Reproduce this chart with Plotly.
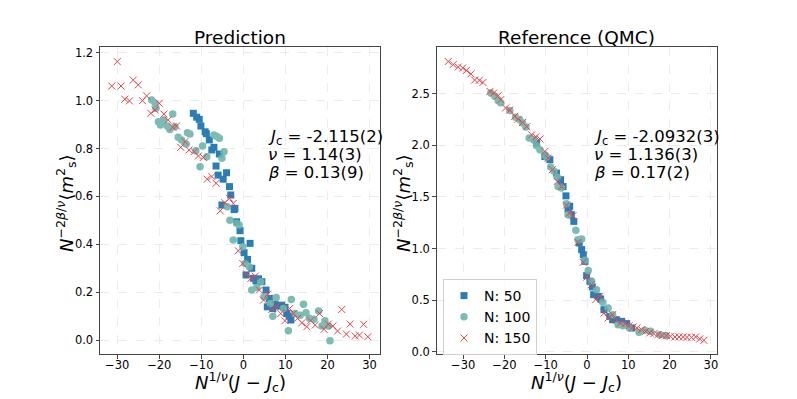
import plotly.graph_objects as go

# === PREDICTION (lijevi graf) ===
pred_x_50 = [-11.9, -11.1, -10.5, -10.1, -9.1, -8.8, -8.1, -7.0, -7.5, -5.7, -6.5, -6.0, -4.8, -4.0,
             -3.3, -3.0, -2.0, -5.1, -2.2, -1.6, -0.8, -0.6, 0.17, 1.6, 1.0, 2.0, 0.64, 2.4, 3.0,
             3.6, 4.4, 5.4, 6.2, 5.7, 7.0, 7.5, 8.3, 9.1, 9.9, 10.3, 10.9, 11.3]
pred_y_50 = [0.947, 0.931, 0.922, 0.894, 0.870, 0.862, 0.836, 0.805, 0.794, 0.777, 0.727, 0.689,
             0.672, 0.699, 0.641, 0.606, 0.550, 0.564, 0.545, 0.494, 0.457, 0.415, 0.365, 0.404,
             0.337, 0.300, 0.272, 0.258, 0.247, 0.256, 0.244, 0.209, 0.174, 0.139, 0.132, 0.150,
             0.142, 0.146, 0.137, 0.111, 0.100, 0.084]

pred_x_100 = [-21.8, -21.0, -20.8, -20.2, -19.7, -19.0, -18.1, -16.8, -17.5, -16.3, -15.5, -14.7,
              -13.6, -13.3, -12.7, -11.3, -10.3, -9.7, -8.7, -7.0, -6.3, -5.7, -5.1, -4.6, -3.8,
              -3.2, -2.4, -1.6, -1.0, -0.14, 0.4, 1.4, 2.0, 3.2, 4.1, 4.9, 6.4, 7.0, 7.8, 9.5,
              10.7, 11.4, 12.3, 13.5, 14.3, 14.9, 15.7, 16.8, 17.9, 18.7, 19.4, 20.2, 20.6]
pred_y_100 = [1.003, 0.989, 0.968, 0.912, 0.898, 0.919, 0.894, 0.944, 0.880, 0.891, 0.847, 0.836,
              0.819, 0.866, 0.861, 0.791, 0.724, 0.811, 0.766, 0.857, 0.850, 0.843, 0.759, 0.787,
              0.557, 0.501, 0.418, 0.488, 0.481, 0.390, 0.320, 0.306, 0.209, 0.220, 0.244, 0.181,
              0.153, 0.100, 0.178, 0.132, 0.039, 0.170, 0.111, 0.104, 0.150, 0.114, 0.091, 0.087,
              0.122, 0.059, 0.081, 0.059, -0.003]

pred_x_150 = [-30.0, -31.3, -29.1, -28.2, -27.1, -26.2, -25.0, -24.0, -23.0, -22.0, -21.0, -20.0,
              -18.9, -17.9, -16.8, -15.9, -13.9, -14.9, -12.9, -11.7, -10.7, -9.5, -8.6, -7.5,
              -6.5, -4.4, -3.3, -2.4, -5.5, -1.2, -0.14, 0.81, 2.8, 1.8, 3.8, 4.8, 5.8, 6.8, 8.0,
              8.9, 9.9, 11.0, 11.9, 12.9, 13.9, 15.1, 16.0, 17.1, 18.1, 19.2, 20.2, 21.3, 22.4,
              23.4, 24.5, 25.4, 26.6, 27.6, 28.6, 29.6]
pred_y_150 = [1.163, 1.061, 1.061, 1.006, 0.999, 1.086, 1.066, 1.000, 1.020, 0.947, 0.961, 0.989,
              0.944, 0.919, 0.889, 0.894, 0.829, 0.805, 0.794, 0.787, 0.769, 0.763, 0.672, 0.683,
              0.655, 0.574, 0.592, 0.571, 0.540, 0.373, 0.320, 0.276, 0.267, 0.258, 0.209, 0.167,
              0.192, 0.128, 0.142, 0.111, 0.081, 0.132, 0.111, 0.091, 0.072, 0.056, 0.081, 0.063,
              0.111, 0.045, 0.067, 0.059, 0.038, 0.128, 0.025, 0.067, 0.017, 0.021, 0.066, 0.014]

# === REFERENCE QMC (desni graf) ===
ref_x_50 = [-12.2, -10.2, -9.0, -7.4, -6.4, -5.8, -5.1, -4.2, -4.6, -3.8, -3.2, -1.9, -1.3, -0.9,
            -0.5, -0.1, 0.7, 1.3, 1.6, 2.7, 3.3, 4.1, 5.5, 6.2, 7.1, 8.4, 9.6, 10.8]
ref_y_50 = [2.02, 1.89, 1.86, 1.73, 1.666, 1.60, 1.51, 1.41, 1.383, 1.328, 1.263, 1.054, 0.99,
            0.941, 0.876, 0.738, 0.683, 0.629, 0.554, 0.538, 0.513, 0.409, 0.344, 0.312, 0.312,
            0.296, 0.274, 0.232]

ref_x_100 = [-23.3, -22.3, -21.5, -20.9, -18.7, -17.3, -16.3, -15.6, -14.8, -14.0, -12.9, -12.2,
             -11.4, -10.2, -9.8, -8.8, -8.0, -7.2, -7.0, -6.2, -5.0, -4.6, -2.7, -2.2, -1.3,
             -0.5, 0.3, 1.1, 2.3, 3.8, 5.1, 6.2, 7.5, 8.7, 10.3, 12.6, 14.0, 15.4, 17.6, 19.1]
ref_y_100 = [2.505, 2.47, 2.43, 2.41, 2.336, 2.27, 2.247, 2.215, 2.176, 2.07, 2.05, 1.995, 1.956,
             1.908, 1.886, 1.79, 1.747, 1.69, 1.60, 1.586, 1.434, 1.328, 1.176, 1.086, 1.093,
             0.886, 0.789, 0.683, 0.602, 0.480, 0.426, 0.36, 0.264, 0.254, 0.232, 0.19, 0.209,
             0.199, 0.167, 0.158]

ref_x_150 = [-33.6, -32.4, -31.2, -30.1, -29.2, -28.1, -27.2, -26.1, -25.2, -23.5, -22.6, -21.5,
             -20.9, -19.7, -18.7, -17.5, -16.7, -15.6, -14.6, -13.4, -12.4, -11.4, -10.2, -9.4,
             -8.4, -7.2, -6.2, -5.0, -4.3, -3.4, -2.2, -0.94, 0.0, 1.1, 2.1, 3.1, 4.1, 5.1, 6.2,
             7.1, 8.1, 9.2, 10.2, 11.2, 12.1, 13.2, 14.2, 15.2, 16.2, 17.2, 18.2, 19.2, 20.2,
             21.3, 22.3, 23.3, 24.2, 25.3, 26.3, 27.3, 28.3]
ref_y_150 = [2.81, 2.78, 2.756, 2.747, 2.723, 2.69, 2.63, 2.627, 2.607, 2.52, 2.505, 2.48, 2.44,
             2.36, 2.34, 2.28, 2.25, 2.22, 2.18, 2.10, 2.08, 2.06, 1.94, 1.876, 1.763, 1.65, 1.60,
             1.42, 1.344, 1.318, 1.06, 0.867, 0.725, 0.651, 0.506, 0.538, 0.377, 0.329, 0.361,
             0.306, 0.280, 0.274, 0.254, 0.242, 0.232, 0.216, 0.199, 0.184, 0.177, 0.167, 0.158,
             0.158, 0.151, 0.145, 0.145, 0.145, 0.141, 0.141, 0.145, 0.126, 0.112]

x_ticks = [-30, -20, -10, 0, 10, 20, 30]
x_ticktext = ["−30", "−20", "−10", "0", "10", "20", "30"]

pred_text = ["<i>J</i><sub>c</sub> = -2.115(2)", "<i>ν</i> = 1.14(3)", "<i>β</i> = 0.13(9)"]
ref_text = ["<i>J</i><sub>c</sub> = -2.0932(3)", "<i>ν</i> = 1.136(3)", "<i>β</i> = 0.17(2)"]

BLUE = "#1f77b4"
TEAL = "#6db6ac"
RED = "#e5454b"
FONT = "DejaVu Sans"
W, H = 797, 399
OFF = 8  # stranica ima 8 px margine oko grafa


def fx(px):
    return (px - OFF) / W


def fy(py):
    return (H - (py - OFF)) / H


fig = go.Figure()

for xa, ya, xs, ys, show in [("x", "y", (pred_x_50, pred_x_100, pred_x_150), (pred_y_50, pred_y_100, pred_y_150), False),
                             ("x2", "y2", (ref_x_50, ref_x_100, ref_x_150), (ref_y_50, ref_y_100, ref_y_150), True)]:
    fig.add_trace(go.Scatter(x=xs[0], y=ys[0], mode="markers", name="N: 50", xaxis=xa, yaxis=ya,
                             showlegend=show, opacity=0.95,
                             marker=dict(symbol="square", size=7, color=BLUE, line=dict(width=0))))
    fig.add_trace(go.Scatter(x=xs[1], y=ys[1], mode="markers", name="N: 100", xaxis=xa, yaxis=ya,
                             showlegend=show, opacity=0.9,
                             marker=dict(symbol="circle", size=7.5, color=TEAL, line=dict(width=0))))
    fig.add_trace(go.Scatter(x=xs[2], y=ys[2], mode="markers", name="N: 150", xaxis=xa, yaxis=ya,
                             showlegend=show,
                             marker=dict(symbol="x-thin", size=7, color=RED, line=dict(width=1, color=RED))))

axis_common = dict(showline=True, mirror=True, linecolor="#444444", linewidth=1,
                   ticks="outside", ticklen=3.5, tickcolor="#444444", automargin=False,
                   showgrid=True, gridcolor="#ececec", griddash="dash", gridwidth=1,
                   zeroline=False, tickfont=dict(size=11.5, family=FONT, color="black"))

xtitle = "<i>N</i><sup>1/<i>ν</i></sup>(<i>J</i> − <i>J</i><sub>c</sub>)"
ytitle = "<i>N</i><sup>−2<i>β</i>/<i>ν</i></sup>⟨<i>m</i><sup>2</sup><sub>s</sub>⟩"

fig.update_layout(
    width=W, height=H,
    margin=dict(l=0, r=0, t=0, b=0, autoexpand=False),
    paper_bgcolor="white", plot_bgcolor="white",
    font=dict(family=FONT, color="black"),
    xaxis=dict(domain=[fx(100), fx(380)], range=[-34.1, 32.5], tickvals=x_ticks, ticktext=x_ticktext,
               ticklabelstandoff=-3, **axis_common),
    yaxis=dict(domain=[fy(354), fy(47)], range=[-0.058, 1.224], tickvals=[0, 0.2, 0.4, 0.6, 0.8, 1.0, 1.2],
               tickformat=".1f", **axis_common),
    xaxis2=dict(domain=[fx(436.7), fx(716.7)], range=[-36.4, 31.4], anchor="y2",
                tickvals=x_ticks, ticktext=x_ticktext, ticklabelstandoff=-3, **axis_common),
    yaxis2=dict(domain=[fy(354), fy(47)], range=[-0.02, 2.95], anchor="x2",
                tickvals=[0, 0.5, 1.0, 1.5, 2.0, 2.5], tickformat=".1f", **axis_common),
    legend=dict(x=fx(443), y=fy(279), xanchor="left", yanchor="top",
                bgcolor="rgba(255,255,255,0.8)", bordercolor="#d0d0d0", borderwidth=1,
                font=dict(size=14, family=FONT), itemsizing="trace", tracegroupgap=0),
)


def note(text, px, py, size, **kw):
    opts = dict(xanchor="center", yanchor="middle")
    opts.update(kw)
    fig.add_annotation(text=text, x=fx(px), y=fy(py), xref="paper", yref="paper",
                       showarrow=False, font=dict(size=size, family=FONT), **opts)


# naslovi
note("Prediction", 240, 37, 18.5)
note("Reference (QMC)", 576.7, 37, 18.5)

# nazivi osi
note(xtitle, 240, 382, 18)
note(xtitle, 576.7, 382, 18)
note(ytitle, 66, 203, 18, textangle=-90)
note(ytitle, 403, 203, 18, textangle=-90)

# procijenjeni kritični parametri
for i, (t1, t2) in enumerate(zip(pred_text, ref_text)):
    note(t1, 266, 137 + 17.8 * i, 16.5, xanchor="left")
    note(t2, 592, 137 + 17.8 * i, 16.5, xanchor="left")

fig.write_html("out.html")
